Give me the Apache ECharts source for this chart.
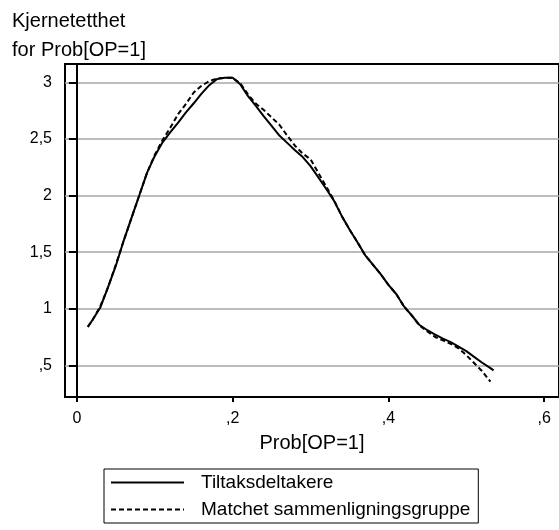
<!DOCTYPE html>
<html><head><meta charset="utf-8">
<script src="https://cdn.jsdelivr.net/npm/echarts@6/dist/echarts.min.js"></script>
<style>html,body{margin:0;padding:0;background:#fff}#c{width:559px;height:530px}</style>
</head><body><div id="c"></div>
<script>
// Data
const seriesNames = ['Tiltaksdeltakere', 'Matchet sammenligningsgruppe'];
const xTilt = [0.014,0.02,0.03,0.04,0.05,0.06,0.07,0.08,0.09,0.10,0.11,0.12,0.13,0.14,0.15,0.16,0.17,0.18,0.19,0.20,0.21,0.22,0.23,0.24,0.25,0.26,0.27,0.28,0.29,0.30,0.31,0.32,0.33,0.34,0.35,0.36,0.37,0.38,0.39,0.40,0.41,0.42,0.43,0.44,0.45,0.46,0.47,0.48,0.49,0.50,0.51,0.52,0.53,0.535];
const yTilt = [0.84,0.90,1.01,1.19,1.38,1.60,1.80,2.00,2.20,2.35,2.47,2.56,2.645,2.735,2.815,2.90,2.975,3.03,3.04,3.04,2.98,2.875,2.79,2.70,2.615,2.53,2.465,2.40,2.34,2.26,2.16,2.06,1.955,1.82,1.70,1.59,1.474,1.39,1.306,1.21,1.13,1.02,0.94,0.856,0.81,0.772,0.735,0.705,0.665,0.625,0.575,0.525,0.48,0.455];
const xMatch = [0.014,0.02,0.03,0.04,0.05,0.06,0.07,0.08,0.09,0.10,0.11,0.12,0.13,0.14,0.15,0.16,0.17,0.18,0.19,0.20,0.21,0.22,0.23,0.24,0.25,0.26,0.27,0.28,0.29,0.30,0.31,0.32,0.33,0.34,0.35,0.36,0.37,0.38,0.39,0.40,0.41,0.42,0.43,0.44,0.45,0.46,0.47,0.48,0.49,0.50,0.51,0.52,0.531];
const yMatch = [0.84,0.90,1.02,1.19,1.39,1.60,1.80,2.00,2.20,2.36,2.49,2.60,2.72,2.81,2.91,2.97,3.01,3.035,3.04,3.04,2.99,2.89,2.81,2.755,2.69,2.625,2.53,2.44,2.37,2.32,2.20,2.08,1.96,1.82,1.70,1.59,1.474,1.39,1.306,1.21,1.13,1.02,0.94,0.85,0.80,0.75,0.72,0.69,0.65,0.59,0.52,0.45,0.355];
const xTicks = [0, 0.2, 0.4, 0.6];
const yTicks = [0.5, 1, 1.5, 2, 2.5, 3];
const yTitle = 'Kjernetetthet\nfor Prob[OP=1]';
const xTitle = 'Prob[OP=1]';

const FONT = '"Liberation Sans", Arial, sans-serif';
const fmt = v => { let s = String(+Number(v).toFixed(2)).replace('.', ','); if (s.startsWith('0,')) s = s.slice(1); return s; };
const zip = (xs, ys) => xs.map((x, i) => [x, ys[i]]);

const chart = echarts.init(document.getElementById('c'), null, {renderer: 'canvas'});
chart.setOption({
  backgroundColor: '#fff',
  animation: false,
  textStyle: {fontFamily: FONT, color: '#000'},
  title: {
    text: yTitle, left: 7, top: 2,
    textStyle: {fontFamily: FONT, fontSize: 20, fontWeight: 'normal', color: '#000', lineHeight: 29}
  },
  grid: {left: 65, top: 64, right: -5, bottom: 133, show: true, borderColor: '#000', borderWidth: 2},
  xAxis: {
    type: 'value', min: -0.0153, max: 0.619,
    name: xTitle, nameLocation: 'middle', nameGap: 36,
    nameTextStyle: {fontFamily: FONT, fontSize: 20, color: '#000'},
    axisLine: {show: true, lineStyle: {color: '#000', width: 2}},
    axisTick: {show: true, customValues: xTicks, length: 5, lineStyle: {color: '#000', width: 2}},
    axisLabel: {customValues: xTicks, formatter: fmt, margin: 14, fontFamily: FONT, fontSize: 16, color: '#000'},
    splitLine: {show: false}
  },
  yAxis: {
    type: 'value', min: 0.22, max: 3.162,
    axisLine: {show: true, lineStyle: {color: '#000', width: 2}},
    axisTick: {show: true, customValues: yTicks, length: 8, lineStyle: {color: '#000', width: 2}},
    axisLabel: {customValues: yTicks, formatter: fmt, margin: 13, fontFamily: FONT, fontSize: 16, color: '#000'},
    splitLine: {show: true, lineStyle: {color: '#a6a6a6', width: 1.5}}
  },
  legend: {
    orient: 'vertical', left: 104, top: 469,
    data: seriesNames,
    borderColor: '#000', borderWidth: 1, borderRadius: 0,
    padding: [4, 8, 4, 6],
    itemWidth: 73, itemHeight: 18, itemGap: 8,
    itemStyle: {color: 'rgba(0,0,0,0)', borderColor: 'rgba(0,0,0,0)', borderWidth: 0, opacity: 0},
    textStyle: {fontFamily: FONT, fontSize: 19, color: '#000', padding: [0, 0, 0, 12]}
  },
  series: [
    {name: seriesNames[0], type: 'line', data: zip(xTilt, yTilt), showSymbol: false, symbol: 'none',
     lineStyle: {color: '#000', width: 2, type: 'solid'}, itemStyle: {color: '#000'}},
    {name: seriesNames[1], type: 'line', data: zip(xMatch, yMatch), showSymbol: false, symbol: 'none',
     lineStyle: {color: '#000', width: 2, type: [5, 3]}, itemStyle: {color: '#000'}}
  ]
});
</script></body></html>
